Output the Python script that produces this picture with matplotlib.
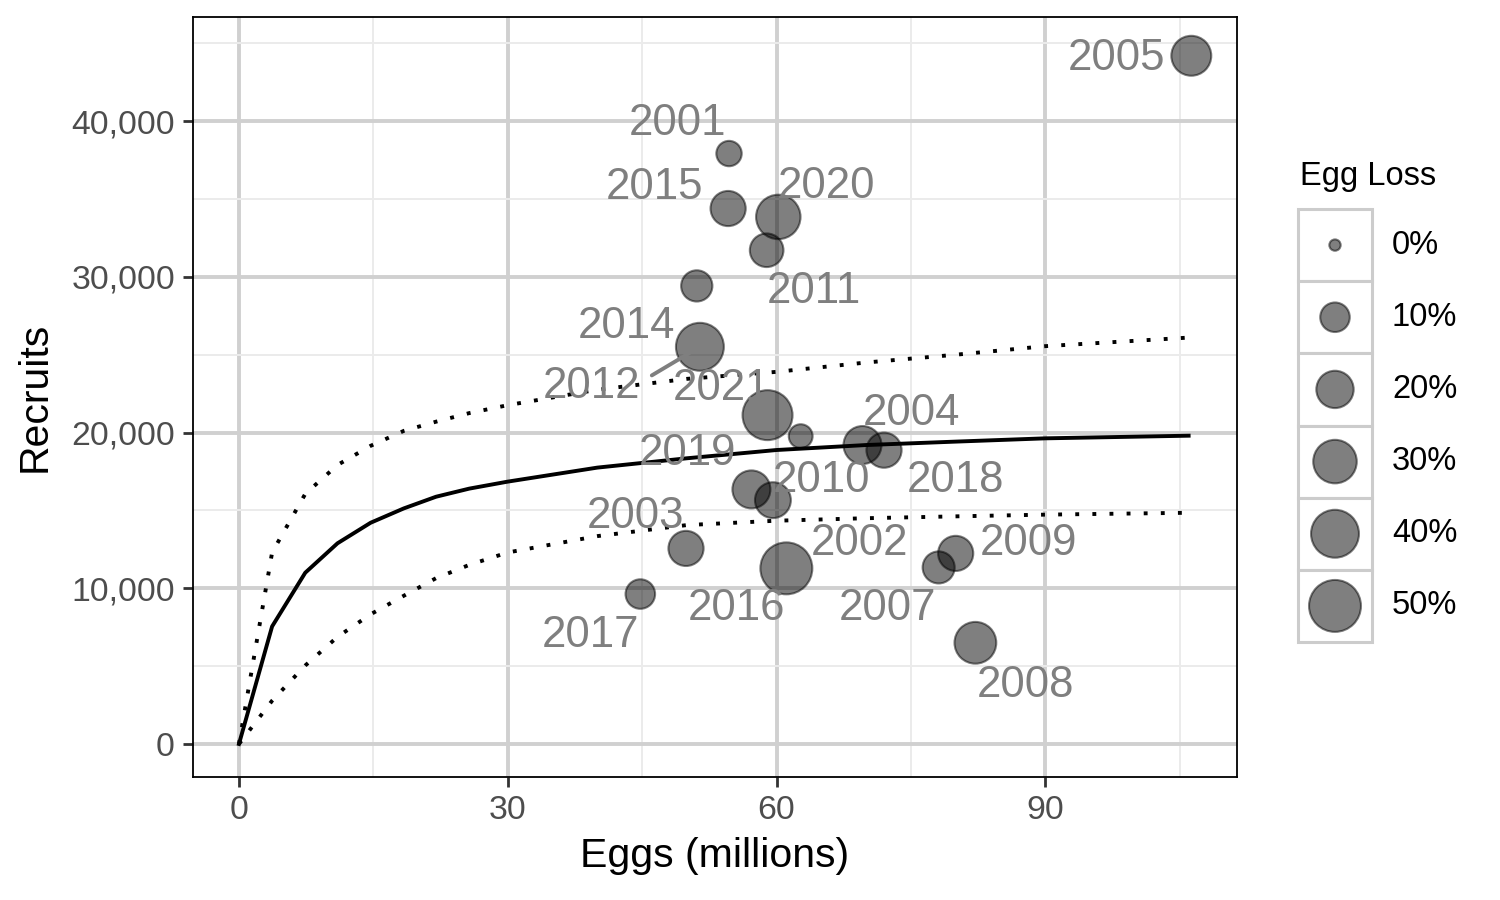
"""egg-recruit scatter with fitted curve and bounds"""
import numpy as np
import matplotlib.pyplot as plt
from matplotlib.ticker import FuncFormatter, MultipleLocator
from matplotlib.patches import Rectangle
from matplotlib.transforms import offset_copy

plt.rcParams['font.family'] = ['Liberation Sans', 'DejaVu Sans']

"""brood years - eggs (millions), recruits, egg loss (%) and label spots"""
years = ['2005', '2001', '2015', '2020', '2011', '2014', '2012', '2021', '2002', '2004',
         '2018', '2019', '2010', '2003', '2016', '2017', '2007', '2009', '2008']
eggs = [106.3, 54.7, 54.6, 60.2, 58.9, 51.1, 51.45, 59.0, 62.7, 69.6,
        72.0, 57.2, 59.6, 49.9, 61.1, 44.8, 78.1, 80.0, 82.2]
recruits = [44200, 37920, 34390, 33850, 31710, 29420, 25510, 21120, 19770, 19200,
            18870, 16350, 15660, 12560, 11280, 9630, 11340, 12240, 6500]
egg_loss = [24, 7, 17, 32, 15, 12, 40, 45, 6, 21,
            17, 21, 18, 17, 50, 10, 13, 17, 27]
label_x = [97.9, 49.0, 46.4, 65.6, 64.2, 43.2, 39.4, 53.9, 69.3, 75.1,
           80.0, 50.1, 65.0, 44.3, 55.5, 39.2, 72.4, 88.1, 87.8]
label_y = [44200, 40060, 35950, 36020, 29280, 27030, 23180, 23050, 13100, 21440,
           17140, 18870, 17140, 14830, 8920, 7190, 8920, 13100, 3980]
leader_years = ['2012']

"""fitted curve and bounds, read off the chart"""
curve_eggs = [0, 3.7, 7.4, 11.0, 14.7, 18.4, 22.0, 25.7, 30, 40, 50, 60, 70, 80, 90, 106]
curve_fit = [0, 7550, 11000, 12890, 14210, 15130, 15880, 16400, 16850, 17750,
             18350, 18880, 19200, 19420, 19630, 19800]
curve_upper = [0, 12300, 16060, 17920, 19150, 20110, 20700, 21250, 21760, 22750,
               23450, 23900, 24500, 25000, 25550, 26100]
curve_lower = [0, 2780, 5040, 6880, 8330, 9520, 10650, 11500, 12300, 13350,
               14060, 14340, 14500, 14620, 14730, 14850]

"""legend breaks"""
loss_breaks = [0, 10, 20, 30, 40, 50]
loss_labels = ['0%', '10%', '20%', '30%', '40%', '50%']
key_radius_px = [6.7, 15.8, 19.7, 22.8, 25.0, 27.0]

PX = 0.72  # points per pixel at dpi 100
EDGE = 1.5


def marker_size(loss):
    area = np.interp(loss, loss_breaks, np.array(key_radius_px) ** 2)
    r_pt = np.sqrt(area) * PX - EDGE / 2
    return (2 * r_pt) ** 2


fig = plt.figure(figsize=(15, 9), dpi=100, facecolor='white')
ax = fig.add_axes([193 / 1500, 1 - 777 / 900, 1044 / 1500, 760 / 900])

"""grid"""
ax.set_axisbelow(True)
ax.xaxis.set_major_locator(MultipleLocator(30))
ax.xaxis.set_minor_locator(MultipleLocator(15))
ax.yaxis.set_major_locator(MultipleLocator(10000))
ax.yaxis.set_minor_locator(MultipleLocator(5000))
ax.grid(which='major', color='#d0d0d0', linewidth=2.8)
ax.grid(which='minor', color='#ebebeb', linewidth=1.4)

"""curves"""
ax.plot(curve_eggs, curve_fit, color='black', linewidth=2.8, zorder=2)
for c in (curve_upper, curve_lower):
    ax.plot(curve_eggs, c, color='black', linewidth=2.8, linestyle=(0, (1, 3.4)),
            dash_capstyle='butt', zorder=2)

"""points"""
sizes = [marker_size(v) for v in egg_loss]
ax.scatter(eggs, recruits, s=sizes, facecolor='black', edgecolor='black',
           linewidth=EDGE, alpha=0.5, zorder=3)

"""year labels (nudged down a touch so the digits sit centred)"""
lab_tr = offset_copy(ax.transData, fig=fig, x=0, y=-2.2, units='points')
for yr, x, y, lx, ly in zip(years, eggs, recruits, label_x, label_y):
    if yr in leader_years:
        ax.annotate(yr, xy=(x, y), xytext=(lx, ly), textcoords=lab_tr, fontsize=31.5,
                    color='#7f7f7f', ha='center', va='center', zorder=4,
                    arrowprops=dict(arrowstyle='-', color='#7f7f7f', linewidth=2.8,
                                    relpos=(1, 0.6), shrinkA=7, shrinkB=8))
    else:
        ax.text(lx, ly, yr, fontsize=31.5, color='#7f7f7f', ha='center', va='center',
                zorder=4, transform=lab_tr)

ax.set_xlim(-5.13, 111.4)
ax.set_ylim(-2120, 46690)
ax.set_xticks([0, 30, 60, 90])
ax.yaxis.set_major_formatter(FuncFormatter(lambda v, p: f'{int(v):,}'))
ax.tick_params(which='major', length=7, width=2.0, color='#333333', labelsize=24.3,
               labelcolor='#4d4d4d', pad=6)
ax.tick_params(which='minor', length=0)
for s in ax.spines.values():
    s.set_color('black')
    s.set_linewidth(1.3)

ax.set_xlabel('Eggs (millions)', fontsize=29.5, labelpad=8)
ax.set_ylabel('Recruits', fontsize=29.5, labelpad=13)

"""legend drawn as its own little axes"""
lax = fig.add_axes([1298 / 1500, 1 - 642 / 900, 74 / 1500, 433 / 900])
lax.set_xlim(0, 1)
lax.set_ylim(len(loss_breaks), 0)
lax.axis('off')
for i in range(len(loss_breaks)):
    lax.add_patch(Rectangle((0, i), 1, 1, facecolor='white', edgecolor='#cccccc',
                            linewidth=2.2, clip_on=False))
lax.scatter([0.5] * len(loss_breaks), np.arange(len(loss_breaks)) + 0.5,
            s=[marker_size(v) for v in loss_breaks], facecolor='black', edgecolor='black',
            linewidth=EDGE, alpha=0.5, clip_on=False, zorder=3)
for i, lab in enumerate(loss_labels):
    lax.text(1.27, i + 0.5, lab, fontsize=23.5, color='black', ha='left', va='center')
fig.text(1300 / 1500, 1 - 177 / 900, 'Egg Loss', fontsize=23.5, ha='left', va='center')

plt.savefig('out.png', dpi=100)
